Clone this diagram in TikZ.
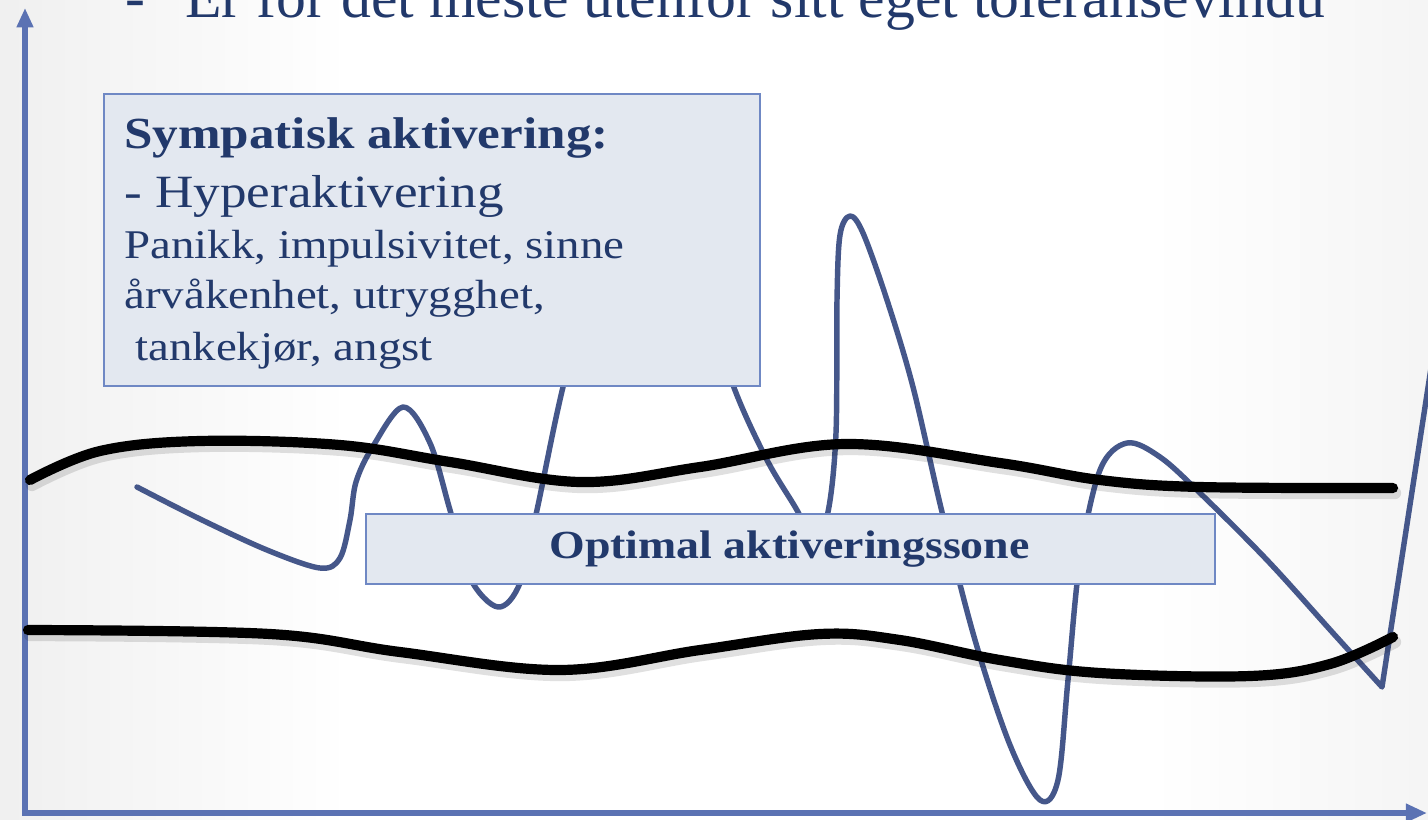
\documentclass[tikz,border=0pt]{standalone}
\usepackage{fontspec}
\setmainfont{Liberation Serif}
\newfontfamily\boxfont{Liberation Serif}[FakeStretch=1.15]
\usetikzlibrary{arrows.meta}
\definecolor{navy}{HTML}{22396B}
\definecolor{boxfill}{HTML}{E3E8F0}
\definecolor{boxedge}{HTML}{6F88C4}
\definecolor{waveblue}{HTML}{45578A}
\definecolor{axisblue}{HTML}{5B72B3}
\begin{document}
\begin{tikzpicture}[x=0.02cm,y=-0.02cm,
  axisline/.style={draw=axisblue,line width=3.3pt,line join=miter,
    {Triangle[length=11pt,width=9pt]}-{Triangle[length=12pt,width=10pt]}},
  zoneline/.style={black,line width=5.8pt,line cap=round},
  shadowline/.style={black,opacity=0.12,line width=7pt,line cap=round},
  wave/.style={draw=waveblue,line width=3.1pt,line cap=round,line join=round},
  infobox/.style={draw=boxedge,fill=boxfill,line width=1.2pt,inner sep=0pt},
  txt/.style={inner sep=0pt,anchor=base west,text=navy}]

\useasboundingbox (0,0) rectangle (1428,819);
\clip (0,0) rectangle (1428,819);
\fill[white] (0,0) rectangle (1428,819);
\shade[left color=black!6, right color=white] (0,0) rectangle (350,819);
\shade[left color=white, right color=black!4] (1150,0) rectangle (1428,819);

% top (cut) text
\node[txt,font=\fontsize{34pt}{40pt}\selectfont] (bullet) at (125,17) {-};
\node[txt,font=\fontsize{34pt}{40pt}\selectfont] (title) at (185,17) {Er for det meste utenfor sitt eget toleransevindu};

% axes
\coordinate (ytop) at (25,8);
\coordinate (O) at (25,813);
\coordinate (xend) at (1427,813);
\draw[axisline] (ytop) -- (O) -- (xend);

% activation wave
\draw[wave] plot[smooth,tension=0.55] coordinates {
 (137,487) (200,519) (267,550) (320,568) (340,558) (350,520) (356,482) (372,448) (403,407)
 (430,443) (450,510) (470,578) (498,607) (520,583) (537,510) (563,387) (600,250) (650,200)
 (700,280) (733,385) (767,460) (798,512) (813,545) (828,512) (836,433) (837,300) (840,235)
 (850,216) (863,233) (887,300) (913,387) (942,512) (975,640) (1010,745) (1040,800)
 (1058,780) (1068,680) (1080,560) (1100,470) (1127,443) (1160,457) (1200,493)
 (1267,560) (1333,633) (1382,687)} -- (1433,355);

% tolerance window borders (with soft shadow)
\draw[shadowline,shift={(2,5)}] plot[smooth,tension=0.6] coordinates {
 (30,480) (100,451) (200,441) (340,445) (450,462) (580,482) (700,467) (845,444)
 (1000,463) (1100,480) (1200,487) (1393,488)};
\draw[shadowline,shift={(2,5)}] plot[smooth,tension=0.6] coordinates {
 (28,630) (270,634) (400,652) (560,670) (700,650) (820,634) (900,640) (1000,660)
 (1100,673) (1250,676) (1330,664) (1393,637)};
\draw[zoneline] plot[smooth,tension=0.6] coordinates {
 (30,480) (100,451) (200,441) (340,445) (450,462) (580,482) (700,467) (845,444)
 (1000,463) (1100,480) (1200,487) (1393,488)};
\draw[zoneline] plot[smooth,tension=0.6] coordinates {
 (28,630) (270,634) (400,652) (560,670) (700,650) (820,634) (900,640) (1000,660)
 (1100,673) (1250,676) (1330,664) (1393,637)};

% boxes
\node[infobox,anchor=north west,minimum width=13.12cm,minimum height=5.84cm] (sympbox) at (103,93) {};
\node[infobox,anchor=north west,minimum width=16.98cm,minimum height=1.40cm] (optbox) at (365,513) {};

\node[txt,font=\boxfont\bfseries\fontsize{25.3pt}{30pt}\selectfont] (l1) at (124,148) {Sympatisk aktivering:};
\node[txt,font=\boxfont\fontsize{26.3pt}{30pt}\selectfont] (l2) at (124,207) {- Hyperaktivering};
\node[txt,font=\boxfont\fontsize{23.2pt}{28pt}\selectfont] (l3) at (124,258) {Panikk, impulsivitet, sinne};
\node[txt,font=\boxfont\fontsize{23.2pt}{28pt}\selectfont] (l4) at (124,308) {årvåkenhet, utrygghet,};
\node[txt,font=\boxfont\fontsize{23.2pt}{28pt}\selectfont] (l5) at (135,360) {tankekjør, angst};

\node[txt,anchor=base,font=\boxfont\bfseries\fontsize{22.7pt}{28pt}\selectfont] (optlabel) at (789.5,558) {Optimal aktiveringssone};
\end{tikzpicture}
\end{document}
